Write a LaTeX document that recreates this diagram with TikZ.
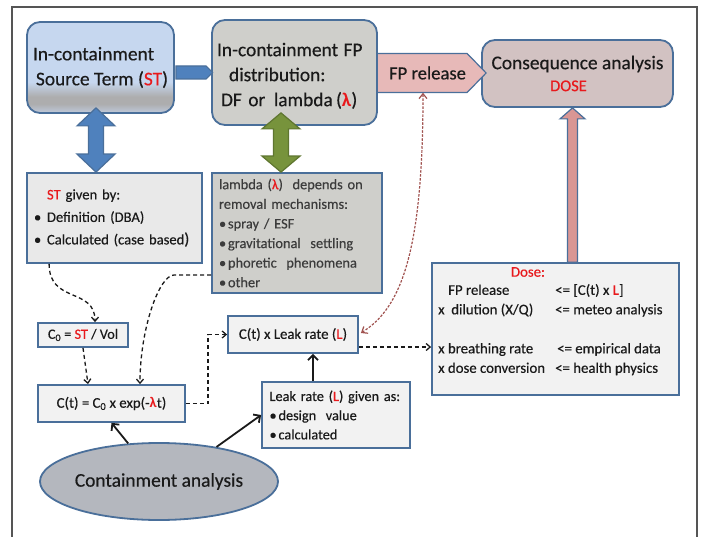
\documentclass[tikz,border=0pt]{standalone}
\usepackage{fontspec}
\setmainfont{Carlito}[UprightFeatures={FakeBold=0.4}]
\usetikzlibrary{arrows.meta,calc,shapes.geometric}

\definecolor{edge}{HTML}{4A6F9A}
\definecolor{stblue}{HTML}{C6D7EF}
\definecolor{stgray}{HTML}{ADADAE}
\definecolor{stbot}{HTML}{BFCADC}
\definecolor{midgray}{HTML}{CFCFCB}
\definecolor{consfill}{HTML}{D2C2C2}
\definecolor{fpfill}{HTML}{E7B9B8}
\definecolor{pinkarrow}{HTML}{D99694}
\definecolor{bluearrow}{HTML}{4F81BD}
\definecolor{greenarrow}{HTML}{77933C}
\definecolor{lightbox}{HTML}{E9E9E9}
\definecolor{palebox}{HTML}{F2F2F2}
\definecolor{ellfill}{HTML}{B4B7BE}
\definecolor{hl}{HTML}{E8191C}
\definecolor{linkbrown}{HTML}{A0524F}
\definecolor{framegray}{HTML}{555555}
\definecolor{ink}{HTML}{1A1A1A}
\definecolor{greytext}{HTML}{3C3C3C}

% blue-to-grey band used by the source term box
\pgfdeclareverticalshading{stshade}{100bp}{color(0bp)=(stbot); color(25bp)=(stbot); color(30bp)=(stgray); color(34bp)=(stgray); color(42bp)=(stblue); color(100bp)=(stblue)}

\newcommand\hl[1]{\textcolor{hl}{#1}}

% fat vertical double arrow: style, top tip, bottom tip, head half width, head length
\newcommand\fatpair[5]{%
  \path[#1] let \p1=(#2), \p2=(#3) in
    (\x1,\y1) -- (\x1+#4,\y1-#5) -- (\x1+7.5pt,\y1-#5) -- (\x1+7.5pt,\y2+#5)
    -- (\x1+#4,\y2+#5) -- (\x1,\y2) -- (\x1-#4,\y2+#5) -- (\x1-7.5pt,\y2+#5)
    -- (\x1-7.5pt,\y1-#5) -- (\x1-#4,\y1-#5) -- cycle;}

\begin{document}
\begin{tikzpicture}[x=1pt,y=-1pt,
  box/.style={draw=edge, line width=1.8pt, inner sep=0pt, text=ink},
  rbox/.style={box, rounded corners=13pt},
  big/.style={font=\fontsize{19.4}{25}\selectfont},
  mid/.style={font=\fontsize{18.6}{24}\selectfont},
  small/.style={font=\fontsize{14.8}{19.5}\selectfont},
  fat/.style={draw=edge, line width=1.2pt, line join=miter},
  link/.style={draw=ink, line width=1.3pt, dash pattern=on 4pt off 3pt,
    -{Straight Barb[length=4pt,width=7pt]}},
  push/.style={draw=ink, line width=1.8pt, -{Straight Barb[length=5pt,width=10pt]}},
  back/.style={draw=linkbrown, line width=1.2pt, dash pattern=on 2.5pt off 1.5pt,
    {Straight Barb[length=5pt,width=8pt]}-{Straight Barb[length=5pt,width=8pt]}},
]
\useasboundingbox (0,0) rectangle (703,537);
\fill[white] (0,0) rectangle (703,537);

% page frame
\draw[framegray, line width=2pt] (12,540) -- (12,7) -- (697,7) -- (697,540);

% ---------- top row ----------
\node[rbox, shading=stshade, minimum width=147pt, minimum height=91pt, big, align=left]
  (st) at (100.5,67.5) {In-containment\\\hspace*{3pt}Source Term (\hl{ST})};

\node[rbox, fill=consfill, minimum width=191pt, minimum height=67pt, big, align=center]
  (cons) at (577.5,73.5) {Consequence analysis\\[-3pt]{\fontsize{16.5}{20}\selectfont\hspace*{-18pt}\hl{DOSE}}};

% FP release banner pointing into the consequence box
\path[fat, fill=fpfill] let \p1=(cons.west) in
  (\x1-110pt,\y1+20pt) -- (\x1-14pt,\y1+20pt) -- (\x1+5pt,\y1+0.5pt)
  -- (\x1-14pt,\y1-19pt) -- (\x1-110pt,\y1-19pt) -- cycle;
\node[mid, text=ink, minimum height=39pt, inner sep=0pt] (fp) at (427.5,73) {FP release};

\node[rbox, fill=midgray, minimum width=165pt, minimum height=105pt, big,
  text width=155pt, align=left] (midbox) at (294.5,72.5)
  {\rule{0pt}{20pt}In-containment\;FP\\\hspace*{12pt}distribution:\\\hspace*{4pt}DF or\;\,lambda\,(\hl{\textbf{λ}})};

\path[fat, fill=bluearrow] let \p1=(st.east), \p2=(midbox.west) in
  (\x1+1pt,\y2+6.5pt) -- (\x2-5pt,\y2+6.5pt) -- (\x2+1.5pt,\y2)
  -- (\x2-5pt,\y2-6.5pt) -- (\x1+1pt,\y2-6.5pt) -- cycle;

% ---------- second row ----------
\node[box, fill=lightbox, minimum width=175pt, minimum height=90pt,
  text width=161pt, align=left, font=\fontsize{14.6}{22.5}\selectfont] (stgiven) at (114.5,218)
  {\hspace*{13pt}\hl{ST} given by:\\
   \makebox[13pt][l]{•}Definition (DBA)\\
   \makebox[13pt][l]{•}Calculated (case based{\fontsize{16.5}{20}\selectfont)}};

\node[box, fill=midgray, text=greytext, minimum width=170pt, minimum height=120pt,
  font=\fontsize{14.4}{19.6}\selectfont,
  text width=156pt, align=left] (lam) at (297,233)
  {lambda (\hl{λ})\ \ depends on\\
   removal mechanisms:\\
   \makebox[9pt][l]{•}spray / ESF\\
   \makebox[9pt][l]{•}gravitational\ \ settling\\
   \makebox[9pt][l]{•}phoretic\ \ phenomena\\
   \makebox[9pt][l]{•}other};

\fatpair{fat, fill=bluearrow}{[xshift=-4.5pt,yshift=6pt]st.south}{stgiven.north}{19pt}{18pt}
\fatpair{fat, draw=greenarrow!80!black, fill=greenarrow}{[xshift=-13.5pt,yshift=13pt]midbox.south}{lam.north}{19pt}{16pt}

% ---------- dose box ----------
\node[box, fill=palebox, minimum width=247pt, minimum height=132pt] (dose) at (555.5,329) {};
\node[small, text=hl, inner sep=0pt] (dosehead) at (528,272) {Dose:};
\node[small, text=ink, inner sep=0pt, anchor=north west] (dosetxt) at (438,281)
  {\begin{tabular}{@{}p{117pt}@{}l@{}}
    \hspace*{10pt}FP release & <= [C(t) x \hl{L}]\\
    x\ \ dilution (X/Q) & <= meteo analysis\\
    & \\
    x breathing rate & \hspace*{2pt}<= empirical data\\
    x dose conversion & <= health physics
   \end{tabular}};

\path[fat, fill=pinkarrow] let \p1=([xshift=-5pt]cons.south), \p2=(dose.north) in
  (\x1,\y1) -- (\x1+12.5pt,\y1-11pt) -- (\x1+5pt,\y1-11pt) -- (\x1+5pt,\y2)
  -- (\x1-5pt,\y2) -- (\x1-5pt,\y1-11pt) -- (\x1-12.5pt,\y1-11pt) -- cycle;

% ---------- calculation chain ----------
\node[box, fill=palebox, minimum width=90pt, minimum height=24pt,
  font=\fontsize{14.2}{18}\selectfont] (c0) at (83,335)
  {C\textsubscript{0} = \hl{ST} / Vol};
\node[box, fill=palebox, minimum width=147pt, minimum height=37pt, small] (ct) at (111.5,403.5)
  {C(t) = C\textsubscript{0} x exp(-\hl{\textbf{λ}}t)};
\node[box, fill=palebox, minimum width=130pt, minimum height=37pt, small] (ctl) at (293,334.5)
  {C(t) x Leak rate (\hl{L})};
\node[box, fill=palebox, minimum width=148pt, minimum height=66pt,
  font=\fontsize{14.3}{19.2}\selectfont,
  text width=133pt, align=left] (leak) at (336,415)
  {Leak rate (\hl{L}) given as:\\
   \makebox[9pt][l]{•}design\ \ value\\
   \makebox[9pt][l]{•}calculated};

\node[ellipse, draw=edge, line width=1.8pt, fill=ellfill, minimum width=186pt,
  minimum height=77pt, inner sep=0pt, big, text=ink] (ca) at (159,481.5) {Containment analysis};

% ---------- connectors ----------
\draw[push] (ca.129) -- (ct.south);
\draw[push] (ca.31) -- (leak.west);
\draw[push] ([xshift=20pt]ctl.south |- leak.north) -- ([xshift=20pt]ctl.south);

\draw[link] ([xshift=23pt]stgiven.south west) .. controls +(0,40) and +(0,-35) .. ([xshift=12pt]c0.north);
\draw[link] ([yshift=-42pt]lam.west) -- ++(-37,0) .. controls +(-15,0) and +(0,-55) .. ([xshift=28.5pt]ct.north);
\draw[link] (c0.south) -- ([xshift=-23.5pt]ct.north);
\draw[link] (ct.east) -- ++(22,0) |- (ctl.west);
\draw[link] ([yshift=-12.5pt]ctl.east) -- ([yshift=-12.5pt]ctl.east -| dose.west);

\draw[back] ([xshift=-4.5pt]fp.south) .. controls +(0,160) and +(40,-25) .. ([xshift=2pt,yshift=1.5pt]ctl.east);
\end{tikzpicture}
\end{document}
